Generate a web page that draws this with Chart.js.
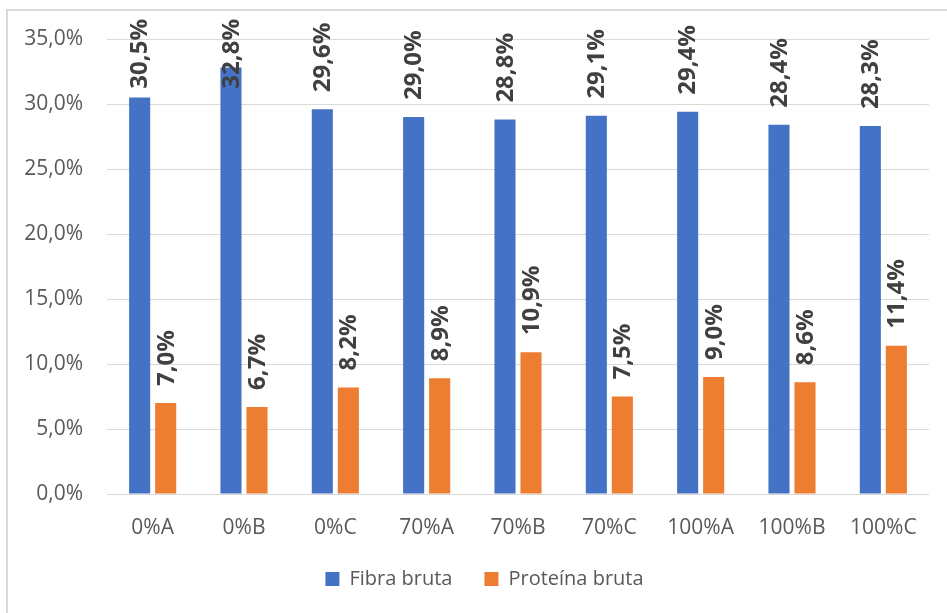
<!DOCTYPE html>
<html>
<head>
<meta charset="utf-8">
<script src="https://cdn.jsdelivr.net/npm/chart.js@4/dist/chart.umd.min.js"></script>
<style>
  html, body { margin: 0; padding: 0; background: #ffffff; overflow: hidden; }
  #frame {
    position: absolute; left: 6px; top: 9px; width: 960px; height: 640px;
    border-left: 2px solid #d9d9d9; border-top: 2px solid #d9d9d9;
  }
  #chart { position: absolute; left: 0; top: 0; }
</style>
</head>
<body>
<div id="frame"></div>
<canvas id="chart" width="947" height="613"></canvas>
<script>
// Categories and series (percent values)
const categories = ['0%A', '0%B', '0%C', '70%A', '70%B', '70%C', '100%A', '100%B', '100%C'];
const fibraBruta = [30.5, 32.8, 29.6, 29.0, 28.8, 29.1, 29.4, 28.4, 28.3];
const proteinaBruta = [7.0, 6.7, 8.2, 8.9, 10.9, 7.5, 9.0, 8.6, 11.4];
const seriesNames = ['Fibra bruta', 'Proteína bruta'];
const yTicks = [0, 5, 10, 15, 20, 25, 30, 35];

const FONT = "'Open Sans', 'Noto Sans', sans-serif";
const fmtPct = v => v.toFixed(1).replace('.', ',') + '%';

// Vertical value labels above each bar, kept inside the canvas top
const barLabels = {
  id: 'barLabels',
  afterDatasetsDraw(chart) {
    const ctx = chart.ctx;
    ctx.save();
    ctx.font = 'bold 24px ' + FONT;
    ctx.fillStyle = '#404040';
    ctx.textAlign = 'center';
    ctx.textBaseline = 'middle';
    chart.data.datasets.forEach((ds, di) => {
      chart.getDatasetMeta(di).data.forEach((bar, i) => {
        const text = fmtPct(ds.data[i]);
        const w = ctx.measureText(text).width;
        let bottom = bar.y - 17;
        if (bottom - w < 19) bottom = 19 + w;
        ctx.save();
        ctx.translate(bar.x + 1, bottom - w / 2);
        ctx.rotate(-Math.PI / 2);
        ctx.fillText(text, 0, 0);
        ctx.restore();
      });
    });
    ctx.restore();
  }
};

// Legend sits a little right of the canvas centre line
const legendShift = {
  id: 'legendShift',
  afterLayout(chart) {
    if (chart.legend) {
      chart.legend.left += 20;
      chart.legend.right += 20;
    }
  }
};

new Chart(document.getElementById('chart'), {
  type: 'bar',
  data: {
    labels: categories,
    datasets: [
      { label: seriesNames[0], data: fibraBruta, backgroundColor: '#4472C4' },
      { label: seriesNames[1], data: proteinaBruta, backgroundColor: '#ED7D31' }
    ]
  },
  options: {
    responsive: false,
    animation: false,
    devicePixelRatio: 1,
    layout: { padding: { left: 0, right: 18, top: 39, bottom: 14 } },
    datasets: {
      bar: { categoryPercentage: 0.57, barPercentage: 0.81, borderWidth: 0 }
    },
    scales: {
      x: {
        grid: { display: false },
        border: { display: false },
        ticks: {
          color: '#595959',
          font: { family: FONT, size: 21 },
          padding: 13,
          maxRotation: 0,
          autoSkip: false
        },
        afterFit(scale) { scale.height = 43; }
      },
      y: {
        min: 0,
        max: 35,
        afterBuildTicks(scale) { scale.ticks = yTicks.map(v => ({ value: v })); },
        grid: { color: '#d9d9d9', lineWidth: 1, drawTicks: false },
        border: { display: false },
        ticks: {
          color: '#595959',
          font: { family: FONT, size: 21 },
          padding: 24,
          callback: v => fmtPct(v)
        },
        afterFit(scale) { scale.width = 107; }
      }
    },
    plugins: {
      legend: {
        position: 'bottom',
        labels: {
          color: '#595959',
          font: { family: FONT, size: 20 },
          boxWidth: 14,
          boxHeight: 14,
          padding: 32
        }
      },
      tooltip: { enabled: false }
    }
  },
  plugins: [barLabels, legendShift]
});
</script>
</body>
</html>
